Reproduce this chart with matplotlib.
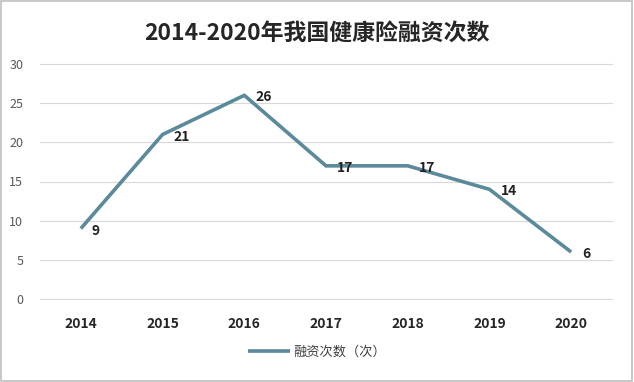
import matplotlib
matplotlib.use("Agg")
import matplotlib.pyplot as plt
from matplotlib.patches import Rectangle

plt.rcParams['font.family'] = ['Noto Sans CJK SC', 'DejaVu Sans']

# data
years = ['2014', '2015', '2016', '2017', '2018', '2019', '2020']
counts = [9, 21, 26, 17, 17, 14, 6]
series_name = '融资次数（次）'
title = '2014-2020年我国健康险融资次数'

line_color = '#5b8a9b'

fig = plt.figure(figsize=(6.34, 3.82), dpi=100)
ax = fig.add_axes([40 / 634, 1 - 299 / 382, 572 / 634, 235 / 382])

x = list(range(len(years)))
ax.plot(x, counts, color=line_color, linewidth=2.6, label=series_name,
        solid_capstyle='butt', solid_joinstyle='miter')

# data labels to the right of each point
for xi, v in zip(x, counts):
    ax.annotate(str(v), (xi, v), xytext=(8, -1.5), textcoords='offset points',
                ha='left', va='center', fontsize=10, fontweight='bold',
                color='#222222')

ax.set_xlim(-0.5, len(years) - 0.5)
ax.set_ylim(0, 30)
ax.set_yticks(range(0, 31, 5))
ax.set_xticks(x)
ax.set_xticklabels(years, fontsize=10, fontweight='bold', color='#262626')
ax.tick_params(axis='y', labelsize=9, labelcolor='#595959', length=0, pad=12)
ax.tick_params(axis='x', length=0, pad=13)
ax.grid(axis='y', color='#d9d9d9', linewidth=0.8)
for gl in ax.get_ygridlines():
    gl.set_clip_on(False)
ax.set_axisbelow(True)
for s in ax.spines.values():
    s.set_visible(False)

fig.text(0.5, 1 - 33 / 382, title, ha='center', va='center',
         fontsize=16.5, fontweight='bold', color='#262626')

fig.legend(loc='center', bbox_to_anchor=(0.5, 1 - 352 / 382), frameon=False,
           fontsize=9.5, labelcolor='#404040', handlelength=3.2, handletextpad=0.3)

# outer frame
fig.patches.append(Rectangle((0.002, 0.003), 0.995, 0.994, transform=fig.transFigure,
                             fill=False, edgecolor='#bfbfbf', linewidth=1.2))

fig.savefig('out.png', dpi=100)
